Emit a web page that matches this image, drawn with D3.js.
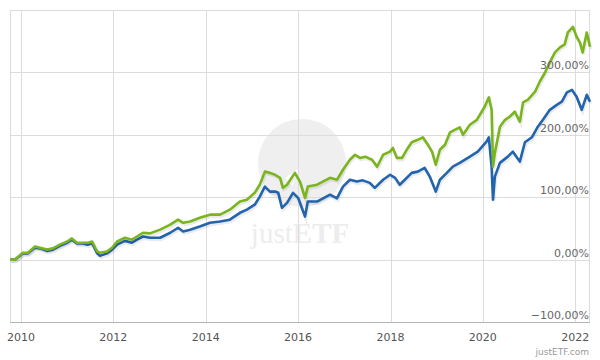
<!DOCTYPE html>
<html>
<head>
<meta charset="utf-8">
<script src="https://cdn.jsdelivr.net/npm/d3@7"></script>
<style>
  body { margin: 0; background: #fff; }
  svg { display: block; font-family: "DejaVu Sans", Verdana, sans-serif; }
</style>
</head>
<body>
<div id="chart"></div>
<script>
// performance in % since start, dates as decimal years
const greenYears = [2009.76, 2009.87, 2010.04, 2010.15, 2010.30, 2010.41, 2010.56, 2010.69, 2010.84, 2011.00,
  2011.10, 2011.21, 2011.34, 2011.45, 2011.54, 2011.65, 2011.71, 2011.86, 2011.97, 2012.08,
  2012.25, 2012.40, 2012.51, 2012.64, 2012.79, 2013.01, 2013.23, 2013.40, 2013.51, 2013.66,
  2013.87, 2014.09, 2014.31, 2014.52, 2014.74, 2014.89, 2015.06, 2015.17, 2015.28, 2015.39,
  2015.50, 2015.61, 2015.67, 2015.76, 2015.93, 2016.04, 2016.15, 2016.21, 2016.41, 2016.69,
  2016.84, 2016.97, 2017.12, 2017.23, 2017.34, 2017.45, 2017.60, 2017.71, 2017.84, 2017.99,
  2018.05, 2018.14, 2018.25, 2018.35, 2018.46, 2018.59, 2018.70, 2018.81, 2018.90, 2018.98,
  2019.07, 2019.18, 2019.29, 2019.39, 2019.50, 2019.57, 2019.72, 2019.87, 2020.04, 2020.13,
  2020.19, 2020.22, 2020.26, 2020.37, 2020.48, 2020.58, 2020.69, 2020.80, 2020.87, 2020.97,
  2021.13, 2021.23, 2021.34, 2021.45, 2021.56, 2021.67, 2021.77, 2021.84, 2021.95, 2022.03,
  2022.10, 2022.16, 2022.25, 2022.32];
const greenValues = [0, 0, 11, 11, 21, 19, 16, 18, 24, 29,
  34, 27, 27, 27, 29, 13, 11, 13, 19, 29,
  35, 32, 37, 43, 42, 48, 56, 64, 59, 61,
  67, 72, 72, 80, 93, 96, 107, 120, 141, 139,
  136, 131, 115, 120, 139, 125, 99, 117, 120, 131,
  128, 144, 160, 168, 163, 165, 160, 149, 168, 173,
  179, 163, 163, 176, 188, 192, 196, 184, 173, 152,
  176, 184, 204, 208, 212, 200, 216, 224, 245, 260,
  240, 149, 171, 213, 224, 229, 237, 221, 252, 256,
  269, 285, 299, 316, 332, 340, 345, 364, 373, 357,
  348, 332, 364, 341];

const blueYears = [2009.76, 2009.87, 2010.04, 2010.15, 2010.30, 2010.41, 2010.56, 2010.69, 2010.84, 2011.00,
  2011.10, 2011.21, 2011.34, 2011.45, 2011.54, 2011.65, 2011.71, 2011.86, 2011.97, 2012.08,
  2012.25, 2012.40, 2012.51, 2012.64, 2012.79, 2013.01, 2013.23, 2013.40, 2013.51, 2013.66,
  2013.87, 2014.09, 2014.31, 2014.52, 2014.74, 2014.89, 2015.06, 2015.17, 2015.28, 2015.39,
  2015.50, 2015.57, 2015.65, 2015.76, 2015.89, 2016.00, 2016.15, 2016.21, 2016.41, 2016.69,
  2016.84, 2016.97, 2017.12, 2017.27, 2017.40, 2017.55, 2017.66, 2017.84, 2017.99, 2018.10,
  2018.20, 2018.31, 2018.46, 2018.59, 2018.74, 2018.85, 2018.98, 2019.07, 2019.22, 2019.35,
  2019.50, 2019.72, 2019.89, 2020.08, 2020.13, 2020.19, 2020.22, 2020.26, 2020.37, 2020.54,
  2020.65, 2020.80, 2020.91, 2021.06, 2021.19, 2021.30, 2021.45, 2021.60, 2021.71, 2021.82,
  2021.93, 2022.03, 2022.14, 2022.25, 2022.32];
const blueValues = [0, 0, 10, 10, 19, 18, 14, 16, 22, 27,
  32, 26, 26, 24, 26, 10, 6, 10, 16, 24,
  30, 27, 32, 37, 35, 35, 43, 51, 45, 48,
  53, 59, 61, 64, 75, 80, 88, 101, 117, 109,
  109, 107, 83, 91, 107, 99, 69, 93, 93, 104,
  98, 117, 128, 125, 127, 123, 115, 128, 136, 131,
  120, 128, 139, 141, 147, 133, 109, 128, 139, 149,
  155, 165, 173, 189, 196, 149, 96, 133, 155, 165,
  173, 157, 188, 196, 213, 224, 240, 248, 253, 268,
  272, 261, 240, 264, 253];

const yTicks = [-100, 0, 100, 200, 300];
const xTickYears = [2010, 2012, 2014, 2016, 2018, 2020, 2022];
const xRange = [2009.76, 2022.32];

const width = 600, height = 360;
const margin = {left: 10, right: 590, top: 10, bottom: 322};

// decimal year -> Date
function toDate(yv) {
  const yr = Math.floor(yv);
  const start = new Date(yr, 0, 1), end = new Date(yr + 1, 0, 1);
  return new Date(+start + (yv - yr) * (end - start));
}

const svg = d3.select("#chart")
  .append("svg")
  .attr("width", width)
  .attr("height", height);

const x = d3.scaleTime()
  .domain(xRange.map(toDate))
  .range([margin.left, margin.right]);

const y = d3.scaleLinear()
  .domain([-100, 400])
  .range([margin.bottom, margin.top]);

// watermark
const wm = svg.append("g");
wm.append("circle")
  .attr("cx", 302).attr("cy", 163).attr("r", 44)
  .attr("fill", "#efefef");
wm.append("path")
  .attr("d", "M285,178 L300,168 L292,186 Z")
  .attr("fill", "#fff");
const wmText = wm.append("text")
  .attr("x", 300).attr("y", 243)
  .attr("text-anchor", "middle")
  .style("font-family", "'Liberation Serif', 'DejaVu Serif', serif")
  .style("font-size", "29px")
  .attr("fill", "#ededed");
wmText.append("tspan").text("just");
wmText.append("tspan").style("font-weight", "bold").text("ETF");

// frame
svg.append("rect")
  .attr("x", margin.left + 0.5).attr("y", margin.top + 0.5)
  .attr("width", margin.right - margin.left - 1).attr("height", margin.bottom - margin.top)
  .attr("fill", "none")
  .attr("stroke", "#dcdcdc");

// grid
svg.append("g")
  .selectAll("line")
  .data(yTicks)
  .join("line")
  .attr("x1", margin.left).attr("x2", margin.right)
  .attr("y1", d => Math.round(y(d)) + 0.5)
  .attr("y2", d => Math.round(y(d)) + 0.5)
  .attr("stroke", "#dcdcdc");

svg.append("g")
  .selectAll("line")
  .data(xTickYears)
  .join("line")
  .attr("y1", margin.top).attr("y2", margin.bottom)
  .attr("x1", d => Math.round(x(new Date(d, 0, 1))) + 0.5)
  .attr("x2", d => Math.round(x(new Date(d, 0, 1))) + 0.5)
  .attr("stroke", "#dcdcdc");

// bottom axis line
svg.append("line")
  .attr("x1", margin.left).attr("x2", margin.right)
  .attr("y1", margin.bottom + 0.5).attr("y2", margin.bottom + 0.5)
  .attr("stroke", "#b4b4b4");

// lines
const line = d3.line()
  .x(d => x(toDate(d[0])))
  .y(d => y(d[1]));

const blue = d3.zip(blueYears, blueValues);
const green = d3.zip(greenYears, greenValues);

[[blue, "#2264ae"], [green, "#7ab51d"]].forEach(([data, color]) => {
  svg.append("path")
    .datum(data)
    .attr("d", line)
    .attr("transform", "translate(1,2)")
    .attr("fill", "none")
    .attr("stroke", "rgba(0,0,0,0.08)")
    .attr("stroke-width", 3);
  svg.append("path")
    .datum(data)
    .attr("d", line)
    .attr("fill", "none")
    .attr("stroke", color)
    .attr("stroke-width", 2.6)
    .attr("stroke-linejoin", "round");
});

// y labels
svg.append("g")
  .selectAll("text")
  .data(yTicks)
  .join("text")
  .attr("x", margin.right - 1)
  .attr("y", d => y(d) - 3)
  .attr("text-anchor", "end")
  .attr("fill", "#666")
  .style("font-size", "11px")
  .text(d => d3.format(".2f")(d).replace(".", ",") + "%");

// x labels
svg.append("g")
  .selectAll("text")
  .data(xTickYears)
  .join("text")
  .attr("x", d => x(new Date(d, 0, 1)))
  .attr("y", 341)
  .attr("text-anchor", "middle")
  .attr("fill", "#555")
  .style("font-size", "11px")
  .text(d => d);

svg.append("text")
  .attr("x", margin.right - 1)
  .attr("y", 355)
  .attr("text-anchor", "end")
  .attr("fill", "#999")
  .style("font-size", "9px")
  .text("justETF.com");
</script>
</body>
</html>
